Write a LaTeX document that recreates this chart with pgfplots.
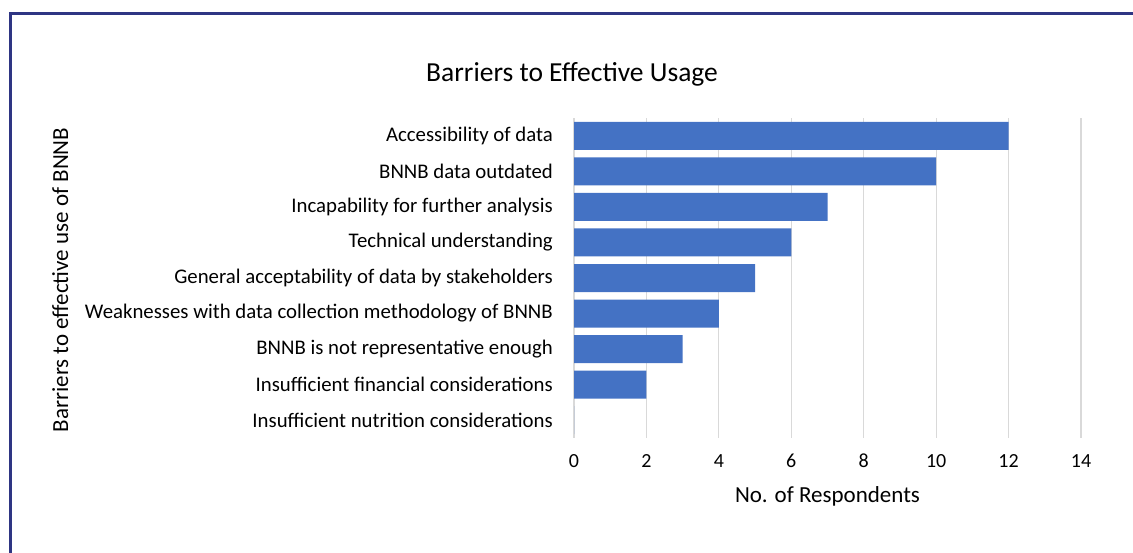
\documentclass[border=0pt]{standalone}
\usepackage{fontspec}
\setmainfont{Carlito}
\usepackage{pgfplots}
\pgfplotsset{compat=1.18}
\definecolor{barblue}{HTML}{4472C4}
\definecolor{gridgray}{HTML}{D9D9D9}
\definecolor{framenavy}{HTML}{2E3583}
\begin{document}
\begin{tikzpicture}[x=1pt,y=1pt]
\useasboundingbox (0,0) rectangle (1133,553);
\draw[framenavy, line width=2.6pt] (1135,539.3) -- (10.7,539.3) -- (10.7,-2);
\begin{axis}[
  at={(574pt,115pt)}, anchor=south west,
  scale only axis, width=507pt, height=320pt,
  xmin=0, xmax=14, ymin=-0.5, ymax=8.5,
  y dir=reverse,
  xbar, bar width=28pt,
  axis line style={draw=none},
  xmajorgrids, grid style={color=gridgray, line width=1.2pt},
  major tick length=0pt,
  xtick={0,2,...,14},
  ytick={0,...,8},
  yticklabels={Accessibility of data, BNNB data outdated, Incapability for further analysis, Technical understanding, General acceptability of data by stakeholders, Weaknesses with data collection methodology of BNNB, BNNB is not representative enough, Insufficient financial considerations, Insufficient nutrition considerations},
  /pgf/number format/assume math mode=true,
  yticklabel style={font=\fontsize{20.8}{24}\selectfont, inner sep=0pt, anchor=east, xshift=-21pt},
  xticklabel style={font=\fontsize{20}{24}\selectfont, inner sep=0pt, anchor=base, yshift=-30pt},
  xlabel={No. of Respondents},
  xlabel style={font=\fontsize{23}{26}\selectfont, at={(axis description cs:0.5,0)}, anchor=base, inner sep=0pt, yshift=-65pt},
]
\addplot[fill=barblue, draw=none] coordinates {
(12,0) (10,1) (7,2) (6,3) (5,4) (4,5) (3,6) (2,7) (0,8)};
\end{axis}
\node[anchor=base, font=\fontsize{27.5}{32}\selectfont, inner sep=0pt] at (572,471.5) {Barriers to Effective Usage};
\node[anchor=base, rotate=90, font=\fontsize{23}{26}\selectfont, inner sep=0pt] at (68,273) {Barriers to effective use of BNNB};
\end{tikzpicture}
\end{document}
